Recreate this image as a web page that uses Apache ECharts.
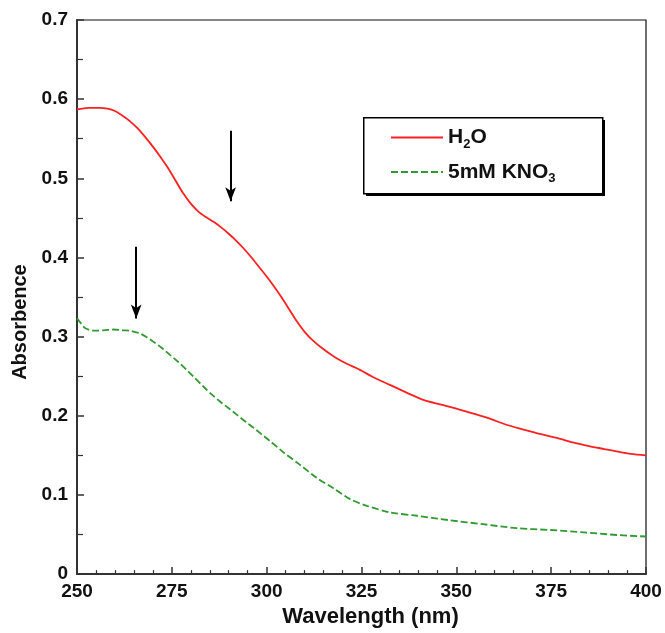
<!DOCTYPE html>
<html>
<head>
<meta charset="utf-8">
<script src="https://cdn.jsdelivr.net/npm/echarts@6/dist/echarts.min.js"></script>
<style>html,body{margin:0;padding:0;background:#fff}#c{width:665px;height:633px}</style>
</head>
<body>
<div id="c"></div>
<script>
// ---- data ----
const waveH2O = [250,253,256,258,260,262,264,266,268,270,272,274,276,278,280,282,284,286,288,290,292,294,296,298,300,302,304,306,308,310,312,315,318,321,324.6,328,332.5,337,341.3,346,350,355,359,363,367.7,372,376.5,381,385,389,392.3,396,400];
const absH2O  = [0.587,0.589,0.589,0.588,0.585,0.579,0.572,0.563,0.552,0.540,0.527,0.513,0.497,0.481,0.468,0.458,0.451,0.445,0.438,0.430,0.421,0.411,0.400,0.388,0.376,0.363,0.349,0.334,0.319,0.306,0.296,0.284,0.274,0.266,0.258,0.249,0.239,0.229,0.220,0.214,0.209,0.202,0.196,0.189,0.1826,0.177,0.172,0.166,0.1617,0.158,0.155,0.152,0.150];
const waveKNO3 = [250,251,252.1,254.3,257,259.6,262,264,266.6,268.5,270.1,272.3,274.5,276.7,278.9,281,283.3,285.5,287.7,290,292.1,294.3,296.5,298.7,300.9,304.4,308.8,313.2,317.6,322,326.4,332.5,339.6,348.3,357.1,365.9,374.7,383.5,392.3,400];
const absKNO3  = [0.323,0.317,0.311,0.3075,0.308,0.309,0.308,0.3075,0.304,0.299,0.2937,0.286,0.277,0.268,0.258,0.248,0.237,0.227,0.218,0.2095,0.2015,0.193,0.185,0.1765,0.168,0.154,0.138,0.1216,0.1085,0.0947,0.0863,0.078,0.0737,0.068,0.063,0.058,0.0557,0.0528,0.0494,0.0475];
const seriesNames = ['H2O','5mM KNO3'];
const xTickLabels = ['250','275','300','325','350','375','400'];
const yTickLabels = ['0','0.1','0.2','0.3','0.4','0.5','0.6','0.7'];
// arrows: [wavelength, from absorbance, to absorbance]
const arrowH2O  = [290.5, 0.560, 0.471];
const arrowKNO3 = [265.6, 0.4135, 0.323];

const FONT = '"Liberation Sans", Arial, sans-serif';
const chart = echarts.init(document.getElementById('c'));
const pair = (xs, ys) => xs.map((x, i) => [x, ys[i]]);

chart.setOption({
  animation: false,
  backgroundColor: '#fff',
  grid: { left: 77, right: 19, top: 20, bottom: 56, show: true, borderColor: '#111', borderWidth: 1.2, backgroundColor: 'transparent' },
  xAxis: {
    type: 'value', min: 250, max: 400, interval: 25,
    name: 'Wavelength (nm)', nameLocation: 'middle', nameGap: 29,
    nameTextStyle: { fontFamily: FONT, fontWeight: 'bold', fontSize: 22, color: '#111', padding: [0, 0, 0, 18] },
    axisLine: { lineStyle: { color: '#333', width: 2 } },
    axisTick: { inside: true, length: 7, lineStyle: { color: '#333', width: 1.5 } },
    minorTick: { show: true, splitNumber: 5, length: 4, lineStyle: { color: '#333', width: 1.2 } },
    splitLine: { show: false },
    axisLabel: { margin: 8, fontFamily: FONT, fontWeight: 'bold', fontSize: 19, color: '#111',
      formatter: v => xTickLabels[Math.round((v - 250) / 25)] }
  },
  yAxis: {
    type: 'value', min: 0, max: 0.7, interval: 0.1,
    name: 'Absorbence', nameLocation: 'middle', nameGap: 43,
    nameTextStyle: { fontFamily: FONT, fontWeight: 'bold', fontSize: 20, color: '#111', padding: [0, 50, 0, 0] },
    axisLine: { lineStyle: { color: '#333', width: 2 } },
    axisTick: { inside: true, length: 7, lineStyle: { color: '#333', width: 1.5 } },
    minorTick: { show: true, splitNumber: 2, length: 6, lineStyle: { color: '#333', width: 1.2 } },
    splitLine: { show: false },
    axisLabel: { margin: 9, fontFamily: FONT, fontWeight: 'bold', fontSize: 19, color: '#111',
      formatter: v => yTickLabels[Math.round(v * 10)] }
  },
  graphic: [
    { type: 'rect', z: 1, left: 366, top: 120, shape: { width: 239, height: 76 }, style: { fill: '#000' } },
    { type: 'rect', z: 2, left: 363, top: 117, shape: { width: 239, height: 76 }, style: { fill: '#fff', stroke: '#000', lineWidth: 1.5 } }
  ],
  legend: {
    z: 5, orient: 'vertical', left: 390, top: 127, itemWidth: 52, itemHeight: 14, itemGap: 11,
    padding: 0,
    itemStyle: { opacity: 0 },
    textStyle: { fontFamily: FONT, fontWeight: 'bold', fontSize: 21, color: '#111',
      rich: {
        b: { fontFamily: FONT, fontWeight: 'bold', fontSize: 21, color: '#111', lineHeight: 26 },
        s: { fontFamily: FONT, fontWeight: 'bold', fontSize: 13, color: '#111', lineHeight: 14, verticalAlign: 'bottom' }
      } },
    formatter: n => n === 'H2O' ? '{b|H}{s|2}{b|O}' : '{b|5mM KNO}{s|3}',
    data: seriesNames
  },
  series: [
    {
      name: seriesNames[0], type: 'line', data: pair(waveH2O, absH2O),
      symbol: 'none', smooth: 0.3, color: '#ff2020',
      lineStyle: { color: '#ff2020', width: 1.8 },
      markLine: {
        silent: true, symbol: ['none', 'arrow'], symbolSize: [8, 14],
        lineStyle: { color: '#000', width: 2, type: 'solid' }, label: { show: false },
        data: [
          [{ coord: [arrowH2O[0], arrowH2O[1]] }, { coord: [arrowH2O[0], arrowH2O[2]] }],
          [{ coord: [arrowKNO3[0], arrowKNO3[1]] }, { coord: [arrowKNO3[0], arrowKNO3[2]] }]
        ]
      }
    },
    {
      name: seriesNames[1], type: 'line', data: pair(waveKNO3, absKNO3),
      symbol: 'none', smooth: 0.3, color: '#2f9a2f',
      lineStyle: { color: '#2f9a2f', width: 1.8, type: [7, 3] }
    }
  ]
});
</script>
</body>
</html>
